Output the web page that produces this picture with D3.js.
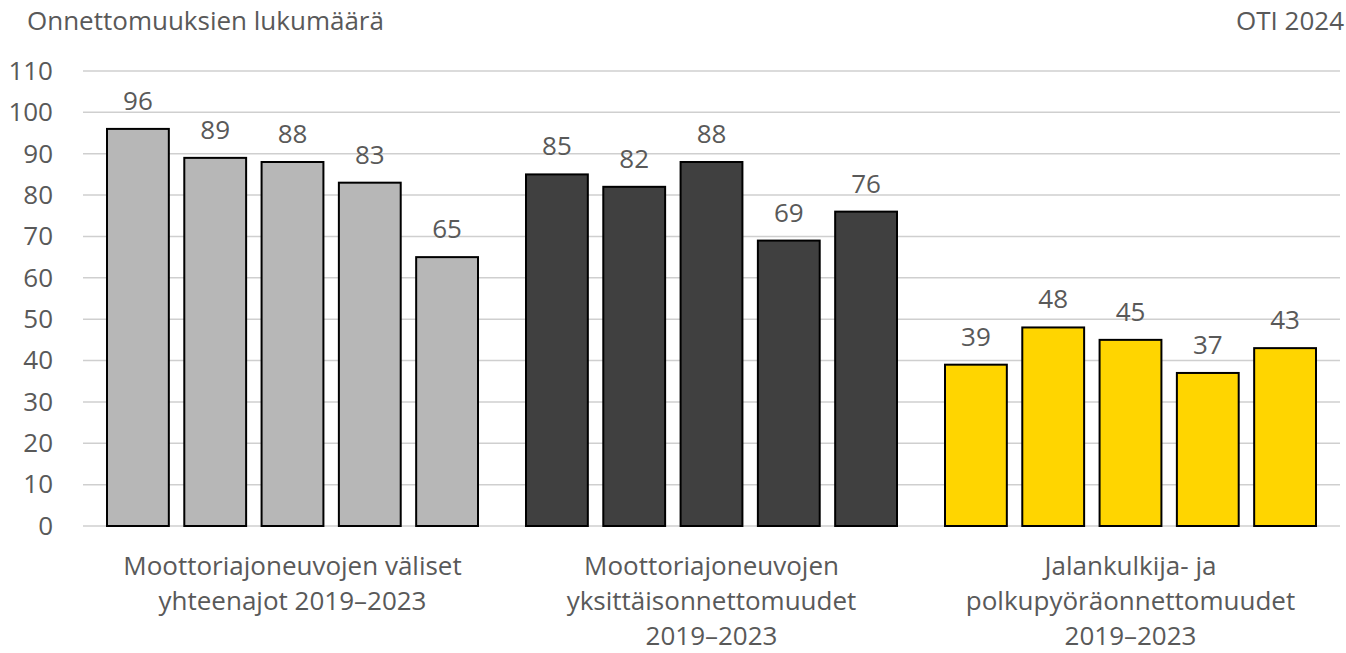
<!DOCTYPE html>
<html>
<head>
<meta charset="utf-8">
<script src="https://cdn.jsdelivr.net/npm/d3@7"></script>
<style>
  body { margin: 0; background: #fff; }
  text { font-family: "Open Sans", "Noto Sans", sans-serif; fill: #595959; }
</style>
</head>
<body>
<div class="displayArea"></div>
<script>
const width = 1346;
const height = 653;
const fontSize = 26;

// categories (line-wrapped like the original) and years
var categories = [
    ["Moottoriajoneuvojen väliset", "yhteenajot 2019–2023"],
    ["Moottoriajoneuvojen", "yksittäisonnettomuudet", "2019–2023"],
    ["Jalankulkija- ja", "polkupyöräonnettomuudet", "2019–2023"]
];
var years = ["2019", "2020", "2021", "2022", "2023"];

var values = [
    [96, 89, 88, 83, 65],
    [85, 82, 88, 69, 76],
    [39, 48, 45, 37, 43]
];
var colors = ["#b7b7b7", "#404040", "#ffd500"];
var yTicks = [0, 10, 20, 30, 40, 50, 60, 70, 80, 90, 100, 110];

var plotLeft = 83, plotRight = 1340, plotTop = 71, plotBottom = 526;

var x0 = d3.scaleBand()
    .domain(d3.range(categories.length))
    .range([plotLeft, plotRight]);

var x1 = d3.scaleBand()
    .domain(years)
    .range([24, x0.bandwidth() - 24])
    .paddingInner(0.2);

var y = d3.scaleLinear()
    .domain([0, 110])
    .range([plotBottom, plotTop]);

var svg = d3.select(".displayArea")
    .append("svg")
    .attr("width", width)
    .attr("height", height);

// gridlines
svg.append("g")
    .selectAll("line")
    .data(yTicks)
    .enter()
    .append("line")
    .attr("x1", plotLeft)
    .attr("x2", plotRight)
    .attr("y1", d => y(d))
    .attr("y2", d => y(d))
    .attr("stroke", "#cfcfcf")
    .attr("stroke-width", 1.5);

// y axis labels
var yAxis = d3.axisLeft(y)
    .tickValues(yTicks)
    .tickSize(0)
    .tickPadding(0);

var ya = svg.append("g")
    .attr("transform", "translate(53,0)")
    .call(yAxis);
ya.select(".domain").remove();
ya.selectAll("text")
    .attr("font-size", fontSize)
    .attr("fill", "#595959")
    .style("font-family", "'Open Sans', 'Noto Sans', sans-serif");

// bars
var groups = svg.selectAll("g.grp")
    .data(values)
    .enter()
    .append("g")
    .attr("class", "grp")
    .attr("transform", (d, i) => `translate(${x0(i)},0)`);

groups.selectAll("rect")
    .data((d, i) => d.map((v, j) => ({ v: v, year: years[j], c: colors[i] })))
    .enter()
    .append("rect")
    .attr("x", d => x1(d.year))
    .attr("y", d => y(d.v))
    .attr("width", x1.bandwidth())
    .attr("height", d => y(0) - y(d.v))
    .attr("fill", d => d.c)
    .attr("stroke", "#000")
    .attr("stroke-width", 2);

groups.selectAll("text.val")
    .data(d => d.map((v, j) => ({ v: v, year: years[j] })))
    .enter()
    .append("text")
    .attr("class", "val")
    .attr("x", d => x1(d.year) + x1.bandwidth() / 2)
    .attr("y", d => y(d.v) - 19)
    .attr("text-anchor", "middle")
    .attr("font-size", fontSize)
    .text(d => d.v);

// category labels (last line kept just inside the bottom edge)
svg.append("g")
    .selectAll("text")
    .data(categories)
    .enter()
    .append("text")
    .attr("x", (d, i) => x0(i) + x0.bandwidth() / 2)
    .attr("y", 575)
    .attr("text-anchor", "middle")
    .attr("font-size", fontSize)
    .each(function (d) {
        d3.select(this).selectAll("tspan")
            .data(d)
            .enter()
            .append("tspan")
            .attr("x", d3.select(this).attr("x"))
            .attr("dy", (t, k) => k === 0 ? 0 : 35)
            .text(t => t);
    });

// titles
svg.append("text")
    .attr("x", 27)
    .attr("y", 30)
    .attr("font-size", fontSize)
    .text("Onnettomuuksien lukumäärä");

svg.append("text")
    .attr("x", 1344)
    .attr("y", 30)
    .attr("text-anchor", "end")
    .attr("font-size", fontSize)
    .text("OTI 2024");
</script>
</body>
</html>
